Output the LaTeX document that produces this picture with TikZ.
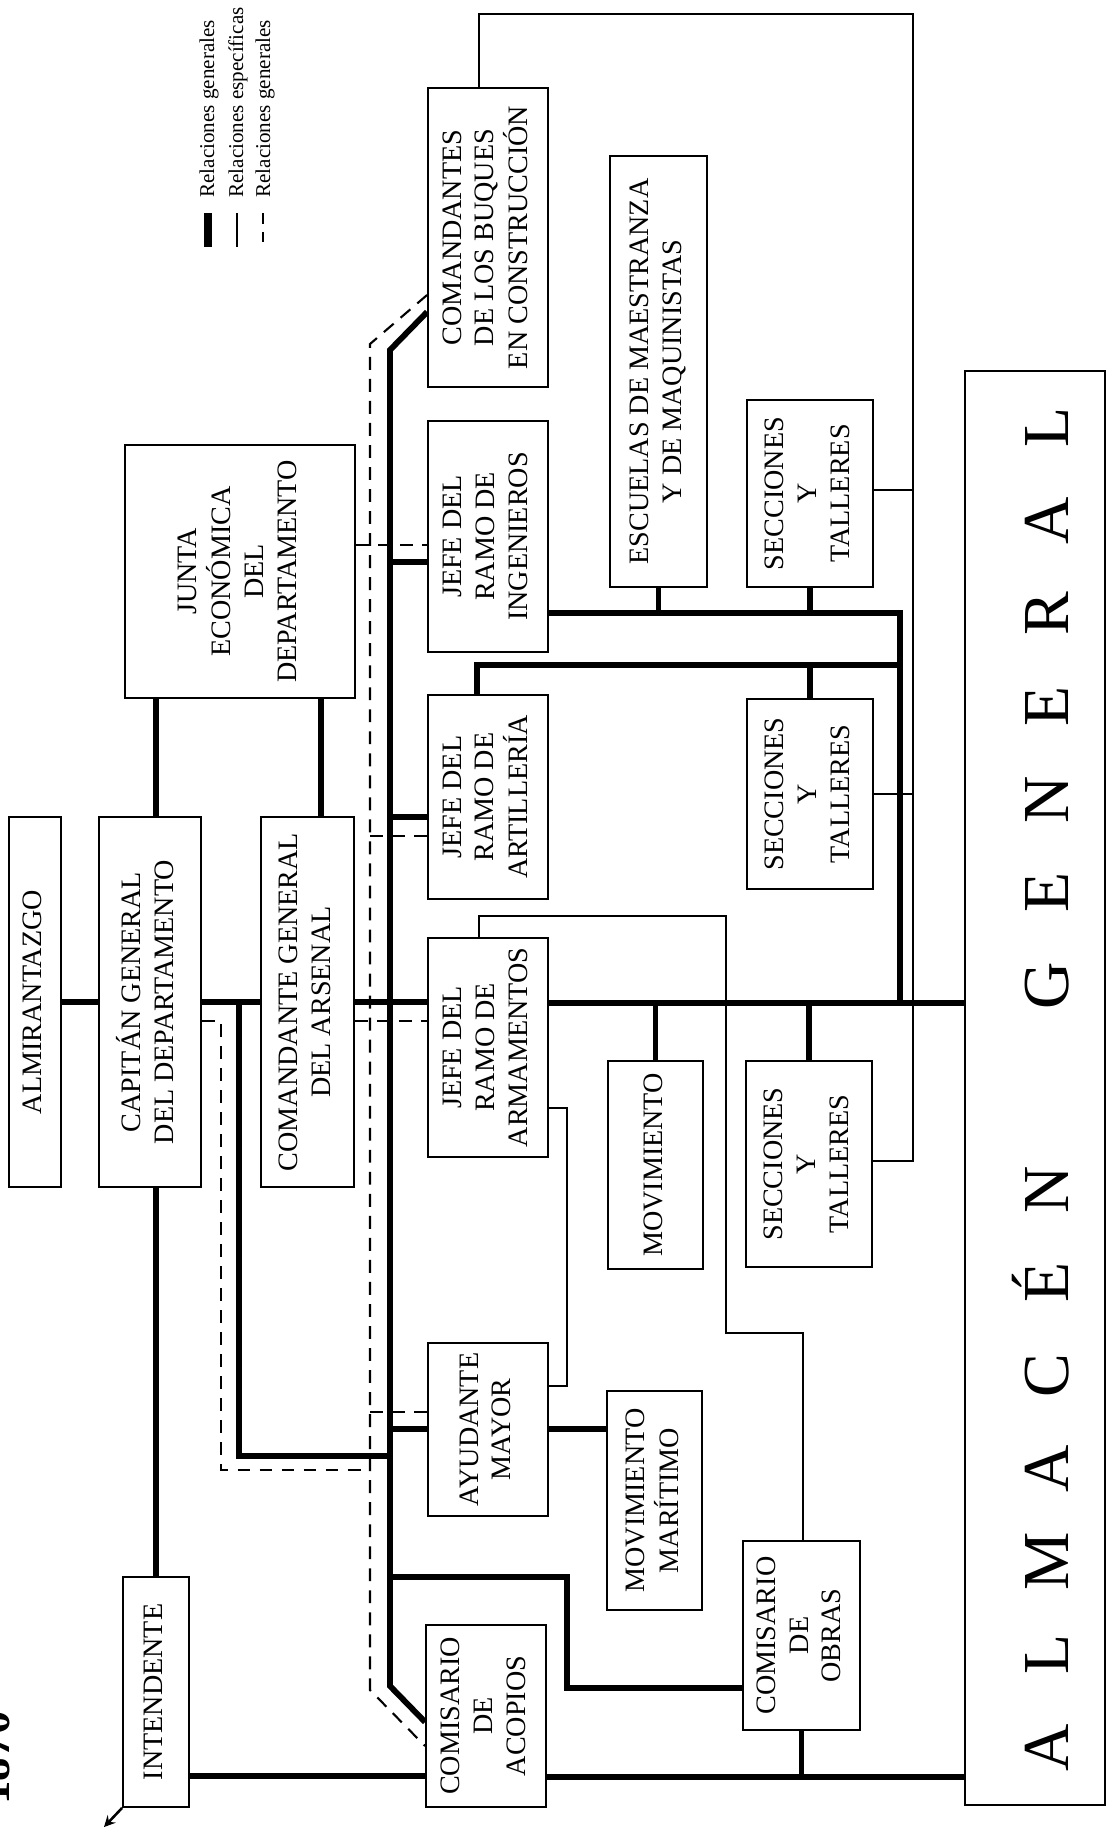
\documentclass[tikz,border=0pt]{standalone}
\usepackage{fontspec}
\setmainfont{Liberation Serif}
\usepackage{graphicx}
\usepackage{tikz}
\usetikzlibrary{arrows}

\newcommand{\boxfont}{\fontsize{12}{14}\selectfont}
\newcommand{\rtext}[1]{\rotatebox{90}{\begin{tabular}{@{}c@{}}#1\end{tabular}}}
\newcommand{\almletter}[1]{\makebox[1.395cm]{#1}}

\begin{document}
\begin{tikzpicture}[
	x=0.15mm, y=-0.15mm,
	box/.style = {draw, line width=0.8pt, inner sep=0pt, font=\boxfont},
	boxdim/.style 2 args = {minimum width=#1*0.15mm, minimum height=#2*0.15mm},
	gen/.style = {line width=2.5pt},
	spec/.style = {line width=1.1pt},
	rel/.style = {line width=0.9pt, dash pattern=on 5.5pt off 3.9pt},
	legtext/.style = {rotate=90, anchor=base west, inner sep=0pt, font=\fontsize{9}{11}\selectfont}
]
\useasboundingbox (0,0) rectangle (1111,1832);

% year and legend
\node[rotate=90, anchor=base west, inner sep=0pt, font=\fontsize{20}{24}\selectfont\bfseries] (year) at (9,1805) {1870};
\node[legtext] (leg gen) at (214,198) {Relaciones generales};
\node[legtext] (leg spec) at (243,198) {Relaciones específicas};
\node[legtext] (leg rel) at (270,198) {Relaciones generales};
\draw[line width=3.2pt] (208,213) -- (208,247);
\draw[spec] (237,213) -- (237,247);
\draw[rel, dash pattern=on 4.5pt off 3.5pt] (263,213) -- (263,247);

% boxes
\node[box, boxdim={52}{370}] (almir) at (35,1002) {\rtext{ALMIRANTAZGO}};
\node[box, boxdim={102}{370}] (capitan) at (150,1002) {\rtext{CAPITÁN GENERAL\\DEL DEPARTAMENTO}};
\node[box, boxdim={230}{253}] (junta) at (240,571.5) {\rtext{JUNTA\\ECONÓMICA\\DEL\\DEPARTAMENTO}};
\node[box, boxdim={93}{370}] (comgen) at (307.5,1002) {\rtext{COMANDANTE GENERAL\\DEL ARSENAL}};
\node[box, boxdim={66}{230}] (intend) at (156,1692) {\rtext{INTENDENTE}};

\node[box, boxdim={120}{299}] (buques) at (488,237.5) {\rtext{COMANDANTES\\DE LOS BUQUES\\EN CONSTRUCCIÓN}};
\node[box, boxdim={120}{231}] (ingen) at (488,536.5) {\rtext{JEFE DEL\\RAMO DE\\INGENIEROS}};
\node[box, boxdim={120}{204}] (artill) at (488,797) {\rtext{JEFE DEL\\RAMO DE\\ARTILLERÍA}};
\node[box, boxdim={120}{219}] (armam) at (488,1047.5) {\rtext{JEFE DEL\\RAMO DE\\ARMAMENTOS}};
\node[box, boxdim={120}{173}] (ayud) at (488,1429.5) {\rtext{AYUDANTE\\MAYOR}};
\node[box, boxdim={120}{182}] (acopios) at (486,1716) {\rtext{COMISARIO\\DE\\ACOPIOS}};

\node[box, boxdim={97}{431}] (escuelas) at (658.5,371.5) {\rtext{ESCUELAS DE MAESTRANZA\\Y DE MAQUINISTAS}};
\node[box, boxdim={95}{208}] (movim) at (655.5,1165) {\rtext{MOVIMIENTO}};
\node[box, boxdim={95}{219}] (movmar) at (654.5,1500.5) {\rtext{MOVIMIENTO\\MARÍTIMO}};

\node[box, boxdim={126}{187}] (secc1) at (810,493.5) {\rtext{SECCIONES\\Y\\TALLERES}};
\node[box, boxdim={126}{190}] (secc2) at (810,794) {\rtext{SECCIONES\\Y\\TALLERES}};
\node[box, boxdim={126}{206}] (secc3) at (809,1164) {\rtext{SECCIONES\\Y\\TALLERES}};
\node[box, boxdim={117}{189}] (obras) at (801.5,1635.5) {\rtext{COMISARIO\\DE\\OBRAS}};

\node[box, boxdim={140}{1434}] (almacen) at (1035,1088) {};
\node[rotate=90, anchor=base, inner sep=0pt, font=\fontsize{28}{32}\selectfont] (almacen text) at (1068,1087.5)
	{\almletter{A}\almletter{L}\almletter{M}\almletter{A}\almletter{C}\almletter{É}\almletter{N}\hspace{1.67cm}\almletter{G}\almletter{E}\almletter{N}\almletter{E}\almletter{R}\almletter{A}\almletter{L}};

\coordinate (spinetop) at (390,350);
\coordinate (spinebot) at (390,1686);
\coordinate (dashtop) at (370,344);
\coordinate (dashbot) at (370,1690);

% relaciones generales
\draw[gen] (almir.east) -- (capitan.west);
\draw[gen] (capitan.east) -- (comgen.west);
\draw[gen] (comgen.east) -- (comgen.east -| armam.west);
\draw[gen] (armam.east |- 0,1003) -- (almacen.west |- 0,1003);
\draw[gen] (junta.south -| intend) -- (capitan.north -| intend);
\draw[gen] (junta.south -| 321,0) -- (comgen.north -| 321,0);
\draw[gen] (capitan.south -| intend) -- (intend.north);
\draw[gen] (buques.west |- 0,312) -- (spinetop) -- (spinebot) -- (acopios.west |- 0,1722);
\draw[gen] (spinetop |- 0,562) -- (ingen.west |- 0,562);
\draw[gen] (spinetop |- 0,817) -- (artill.west |- 0,817);
\draw[gen] (spinetop |- 0,1429) -- (ayud.west |- 0,1429);
\draw[gen] (239,1003) -- (239,1456) -- (spinetop |- 0,1456);
\draw[gen] (spinetop |- 0,1577) -| (567,1688) -- (obras.west |- 0,1688);
\draw[gen] (intend.east |- 0,1776) -- (acopios.west |- 0,1776);
\draw[gen] (acopios.east |- 0,1777) -- (almacen.west |- 0,1777);
\draw[gen] (obras.south) -- (obras.south |- 0,1777);
\draw[gen] (ayud.east |- 0,1429) -- (movmar.west |- 0,1429);
\draw[gen] (movim.north) -- (movim.north |- 0,1003);
\draw[gen] (secc3.north) -- (secc3.north |- 0,1003);
\draw[gen] (ingen.east |- 0,613) -- (900,613) -- (900,1003);
\draw[gen] (escuelas.south) -- (escuelas.south |- 0,613);
\draw[gen] (secc1.south) -- (secc1.south |- 0,613);
\draw[gen] (artill.north -| 477,0) -- (477,665) -- (900,665);
\draw[gen] (secc2.north) -- (secc2.north |- 0,665);

% relaciones especificas
\draw[spec] (buques.north -| 479,0) -- (479,14) -- (913,14) -- (913,1161) -- (secc3.east |- 0,1161);
\draw[spec] (secc1.east |- 0,490) -- (913,490);
\draw[spec] (secc2.east |- 0,794) -- (913,794);
\draw[spec] (armam.north -| 479,0) -- (479,916) -- (726,916) -- (726,1333) -- (803,1333) -- (obras.north -| 803,0);
\draw[spec] (armam.east |- 0,1108) -- (567,1108) -- (567,1386) -- (ayud.east |- 0,1386);
\draw[spec, ->, >=stealth] (intend.south west) -- (104,1827);

% relaciones generales (trazo discontinuo)
\draw[rel] (capitan.east |- 0,1021) -- (221,1021) -- (221,1470) -- (dashtop |- 0,1470);
\draw[rel] (buques.west |- 0,295) -- (dashtop) -- (dashbot) -- (acopios.west |- 0,1746);
\draw[rel] (junta.east |- 0,545) -- (ingen.west |- 0,545);
\draw[rel] (dashtop |- 0,836) -- (artill.west |- 0,836);
\draw[rel] (comgen.east |- 0,1021) -- (armam.west |- 0,1021);
\draw[rel] (dashtop |- 0,1412) -- (ayud.west |- 0,1412);

\end{tikzpicture}
\end{document}
